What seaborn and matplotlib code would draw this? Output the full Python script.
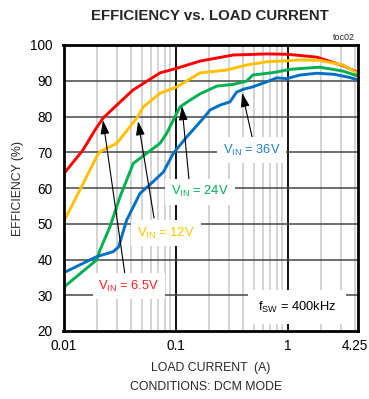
import matplotlib
matplotlib.use("Agg")
import matplotlib.pyplot as plt
import matplotlib.transforms as mtransforms
import seaborn as sns
import pandas as pd
import numpy as np

sns.set_theme(style="white")
FAM = ['Liberation Sans Narrow', 'Liberation Sans', 'DejaVu Sans']
plt.rcParams['font.family'] = FAM
plt.rcParams['mathtext.fontset'] = 'custom'
plt.rcParams['mathtext.rm'] = 'Liberation Sans'
plt.rcParams['mathtext.it'] = 'Liberation Sans'

# ---- data (load current in A, efficiency in %) ----
x_65 = [0.0102, 0.0149, 0.0191, 0.0225, 0.0299, 0.0417, 0.0727, 0.1026, 0.1655, 0.327, 0.653, 1.0, 1.83, 3.13, 4.25]
y_65 = [64.2, 70.6, 76.2, 79.5, 83.2, 87.4, 92.2, 93.5, 95.5, 97.2, 97.5, 97.4, 96.6, 94.2, 92.3]

x_12 = [0.0102, 0.0145, 0.0198, 0.0212, 0.0299, 0.045, 0.0516, 0.0727, 0.103, 0.165, 0.287, 0.43, 0.65, 1.29, 1.94, 3.13, 4.25]
y_12 = [51.0, 60.4, 68.8, 70.2, 72.5, 79.5, 82.7, 86.5, 88.3, 92.2, 93.0, 94.4, 95.3, 95.8, 95.7, 94.4, 92.0]

x_24 = [0.0102, 0.0198, 0.0212, 0.026, 0.032, 0.042, 0.0553, 0.0727, 0.0834, 0.0955, 0.1097, 0.135, 0.165, 0.233, 0.33, 0.43, 0.49, 0.75, 1.06, 1.94, 3.13, 4.25]
y_24 = [32.4, 39.9, 42.7, 49.2, 57.6, 66.9, 69.7, 72.5, 75.3, 79.0, 82.7, 84.6, 86.3, 88.5, 89.0, 89.9, 91.6, 92.3, 93.2, 93.8, 92.7, 91.3]

x_36 = [0.0102, 0.0198, 0.0278, 0.031, 0.0366, 0.0482, 0.0633, 0.078, 0.0955, 0.126, 0.177, 0.203, 0.25, 0.306, 0.35, 0.40, 0.49, 0.65, 0.8, 0.98, 1.29, 1.83, 2.6, 3.6, 4.25]
y_36 = [36.4, 40.8, 42.2, 43.5, 51.0, 58.5, 61.8, 64.5, 69.7, 74.3, 79.5, 81.8, 83.2, 84.1, 86.8, 87.6, 88.3, 89.7, 90.8, 90.6, 91.6, 92.1, 91.8, 90.9, 90.2]

series_names = ["6.5V", "12V", "24V", "36V"]
colors = {"6.5V": "#ff0000", "12V": "#ffc000", "24V": "#00b050", "36V": "#0070c0"}

x_ticks = [0.01, 0.1, 1, 4.25]
x_ticklabels = ["0.01", "0.1", "1", "4.25"]
y_ticks = [20, 30, 40, 50, 60, 70, 80, 90, 100]

frames = []
for name, xs, ys in zip(series_names, [x_65, x_12, x_24, x_36], [y_65, y_12, y_24, y_36]):
    frames.append(pd.DataFrame({"current": xs, "eff": ys, "vin": name}))
df = pd.concat(frames, ignore_index=True)

W, H = 369, 399
fig = plt.figure(figsize=(W / 100, H / 100), dpi=100)
L, R, T, B = 63.5, 358, 45, 331
ax = fig.add_axes([L / W, 1 - B / H, (R - L) / W, (B - T) / H])

ax.set_xscale("log")
ax.set_xlim(0.01, 4.25)
ax.set_ylim(20, 100)

# grid
minor = [m * 10.0 ** e for e in (-2, -1, 0) for m in range(2, 10)]
minor = [v for v in minor if v < 4.25]
for v in minor:
    ax.axvline(v, color="#d0d0d0", lw=1.3, zorder=0)
for v in [0.1, 1]:
    ax.axvline(v, color="black", lw=1.3, zorder=0.5)
for v in y_ticks[1:-1]:
    ax.axhline(v, color="#454545", lw=1.1, zorder=0.5)

sns.lineplot(data=df, x="current", y="eff", hue="vin", palette=colors,
             hue_order=series_names, estimator=None, sort=False,
             lw=2.1, legend=False, ax=ax, zorder=3)

ax.set_xticks(x_ticks)
ax.set_xticklabels(x_ticklabels)
ax.xaxis.set_minor_locator(matplotlib.ticker.NullLocator())
ax.set_yticks(y_ticks)
ax.tick_params(axis="both", length=0, labelsize=9.8, colors="black")
ax.tick_params(axis="x", pad=6)
ax.tick_params(axis="y", pad=8)
last = ax.get_xticklabels()[-1]
last.set_horizontalalignment("right")
last.set_transform(last.get_transform() + mtransforms.ScaledTranslation(10 / 100, 0, fig.dpi_scale_trans))
for s in ax.spines.values():
    s.set_visible(True)
    s.set_color("black")
    s.set_linewidth(2.0)
    s.set_zorder(5)

ax.set_xlabel("LOAD CURRENT  (A)", fontsize=8.8, labelpad=6)
ax.set_ylabel("EFFICIENCY (%)", fontsize=8.8, labelpad=4)

fig.text(209.5 / W, 1 - 16.5 / H, "EFFICIENCY vs. LOAD CURRENT", ha="center", va="center",
         fontsize=10.8, fontweight="bold")
fig.text(206 / W, 1 - 387 / H, "CONDITIONS: DCM MODE", ha="center", va="center", fontsize=8.8)
fig.text(355 / W, 1 - 37 / H, "toc02", ha="right", va="center", fontsize=6.5)

# annotations
annots = [
    ("6.5V", (0.0384, 32.6), (0.0354, 35.7), (0.0225, 79.0), "#ff2020"),
    ("12V", (0.0822, 47.4), (0.0643, 51.6), (0.0463, 78.7), "#ffc000"),
    ("24V", (0.1655, 58.9), (0.132, 62.2), (0.114, 82.9), "#00b050"),
    ("36V", (0.48, 70.6), (0.482, 74.3), (0.393, 86.6), "#1a80c8"),
]
for name, tpos, tail, head, col in annots:
    ax.annotate("", xy=head, xytext=tail,
                arrowprops=dict(arrowstyle="-|>,head_length=0.7,head_width=0.22", color="black", lw=0.8,
                                shrinkA=0, shrinkB=0), zorder=6)
    ax.text(tpos[0], tpos[1], r"V$_{\mathrm{IN}}$ = " + name, color=col, fontsize=9.3,
            ha="center", va="center", zorder=7,
            bbox=dict(boxstyle="square,pad=0.45", fc="white", ec="none"))

ax.text(1.216, 26.7, r"f$_{\mathrm{SW}}$ = 400kHz", color="black", fontsize=9.3,
        ha="center", va="center", zorder=7,
        bbox=dict(boxstyle="square,pad=0.75", fc="white", ec="none"))

fig.savefig("out.png", dpi=100)
